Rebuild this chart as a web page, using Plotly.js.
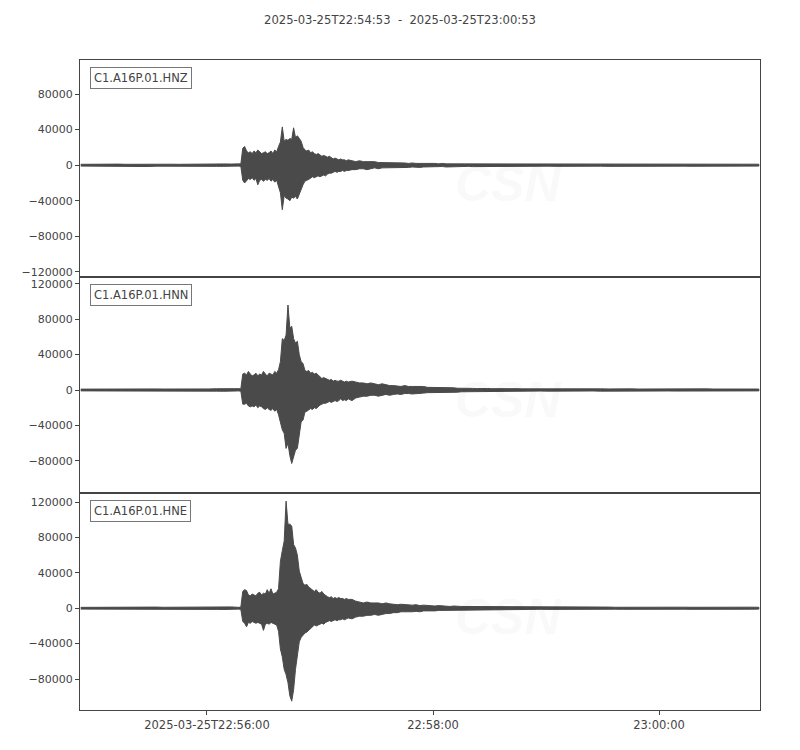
<!DOCTYPE html>
<html>
<head>
<meta charset="utf-8">
<script src="https://cdn.plot.ly/plotly-3.0.1.min.js"></script>
<style>html,body{margin:0;padding:0;background:#fff;}#chart{width:800px;height:750px;}</style>
</head>
<body>
<div id="chart"></div>
<script>
// ---- DATA ----
const startTime = '2025-03-25 22:54:53';
const titleText = '2025-03-25T22:54:53  -  2025-03-25T23:00:53';
const stations = ['C1.A16P.01.HNZ', 'C1.A16P.01.HNN', 'C1.A16P.01.HNE'];
const ampUnit = 1000; // values below are in thousands of counts

// seconds after start time
const tSec = [
  0,4,8,12,16,20,24,28,32,36,40,44,48,52,56,60,64,68,72,76,80,
  84,85,86,87,88,89,90,91,92,93,94,95,96,97,98,99,100,101,102,103,104,105,106,107,108,109,110,111,112,113,
  114,115,116,117,118,119,120,121,122,123,124,125,126,127,128,129,130,131,132,133,134,135,136,137,138,139,140,141,142,
  144,146,148,150,152,154,156,158,160,162,164,166,168,170,172,174,176,178,180,182,184,186,188,190,192,194,196,198,200,
  202,204,206,208,210,212,214,216,218,220,222,224,226,228,230,232,234,236,238,240,
  244,248,252,256,260,264,268,272,276,280,284,288,292,296,300,304,308,312,316,320,324,328,332,336,340,344,348,352,356,360
];

// HNZ envelope (max / min), thousands
const hnzMax = [
  1,1.2,1,1.1,1,1.2,1,1.1,1.4,1.5,1.2,1,1.1,1,1.2,1,1.1,1.3,1.2,1.4,1.3,
  1,1.5,19,21,16,14,15,13,16,14, 17,15,13,14,15,13,14,16,13,17, 15,21,26,43,27,29,28,30,29,42,
  31,33,30,27,20,17,16,17,14,15, 13,12,13,11,10,11,10,9,10,8, 7,8,7,6,7,6,6,5,6,
  5,4,5,4,4,4,4,3,3,3, 3,2.5,3,2.5,2.5,2,2.5,2,2,2, 2.5,2,2,1.5,2,1.5,1.5,1.5,1.5,
  1.6,1.4,1.5,1.3,1.5,1.4,1.3,1.6,1.4,1.3,1.5,1.2,1.4,1.3,1.5,1.2,1.3,1.4,1.2,1.3,
  1.2,1.3,1.1,1.6,1.3,1.7,1.2,1.1,1.3,1.2,1.1,1.2,1.3,1.1,1.2,1.1,1.2,1.3,1.1,1.2,1.1,1.2,1,1.1,1.2,1,1.1,1.2,1,1.1
];
const hnzMin = [
  -1,-1.1,-1,-1.2,-1,-1,-1.1,-1,-1.4,-1.5,-1.1,-1,-1,-1.2,-1,-1.1,-1.2,-1.2,-1.3,-1.3,-1.4,
  -1,-1.5,-17,-20,-18,-15,-16,-14,-17,-15, -22,-17,-16,-18,-16,-17,-15,-18,-16,-19, -17,-25,-31,-50,-34,-37,-38,-40,-36,-37,
  -35,-38,-33,-28,-22,-18,-17,-16,-15,-13, -14,-13,-12,-13,-12,-11,-12,-10,-9,-9, -8,-7,-8,-7,-7,-6,-7,-6,-6,
  -5,-5,-4,-4,-5,-4,-3,-4,-3,-3, -3,-3,-2.5,-2.5,-2.5,-2.5,-2,-2,-2.5,-2, -2,-2,-2,-1.5,-1.5,-2,-1.5,-1.5,-1.5,
  -1.4,-1.5,-1.3,-1.6,-1.4,-1.3,-1.5,-1.4,-1.2,-1.5,-1.3,-1.4,-1.2,-1.3,-1.5,-1.3,-1.2,-1.4,-1.3,-1.2,
  -1.2,-1.1,-1.3,-1.5,-1.2,-1.6,-1.1,-1.2,-1.1,-1.3,-1.2,-1.1,-1.2,-1.1,-1.3,-1.2,-1.1,-1.2,-1.2,-1.1,-1.2,-1,-1.1,-1.2,-1,-1.1,-1.2,-1,-1.1,-1
];

// HNN envelope
const hnnMax = [
  1,1.1,1.2,1,1.1,1,1.2,1.1,1.4,1.5,1.2,1.1,1,1.2,1.1,1.2,1.3,1.2,1.4,1.3,1.5,
  1,1.5,18,19,17,21,18,16,17,19, 16,18,17,21,18,16,19,18,17,21, 19,23,32,58,56,62,96,70,72,58,
  53,55,40,32,30,22,21,22,19,20, 18,19,17,15,13,14,13,12,11,12, 10,11,10,10,11,10,9,10,9,
  10,9,8,8,7,8,7,6,7,6, 5,5,4.5,4,5,4,4,4,3.5,4, 3,3,2.5,3,2.5,2.5,3,2.5,2,
  2,2.5,2,1.8,1.6,1.8,1.5,1.7,1.5,1.6,1.4,1.6,1.5,1.4,1.6,1.5,1.3,1.5,1.4,1.3,
  1.3,1.4,1.2,1.5,1.6,1.7,1.3,1.2,1.3,1.2,1.4,1.2,1.3,1.1,1.2,1.3,1.1,1.2,1.3,1.1,1.2,1.1,1.3,1.1,1.2,1.1,1,1.2,1.1,1.1
];
const hnnMin = [
  -1,-1.1,-1,-1.1,-1.2,-1,-1.1,-1,-1.4,-1.5,-1.1,-1.2,-1,-1.1,-1.2,-1.1,-1.2,-1.3,-1.3,-1.4,-1.4,
  -1,-1.5,-16,-16,-15,-18,-19,-18,-19,-17, -20,-18,-19,-21,-22,-20,-22,-23,-21,-24, -22,-28,-36,-45,-49,-66,-60,-74,-83,-77,
  -68,-66,-51,-36,-34,-25,-24,-23,-21,-22, -20,-21,-19,-17,-16,-15,-15,-14,-13,-14, -13,-12,-13,-12,-10,-12,-11,-12,-10,
  -12,-9,-8,-7,-7,-6,-6,-7,-6,-5, -6,-5,-4.5,-5,-4,-4,-4.5,-4,-4,-3.5, -3,-3,-3,-2.5,-3,-2.5,-2.5,-2.5,-2.5,
  -2,-2,-2,-1.7,-1.8,-1.6,-1.5,-1.6,-1.5,-1.4,-1.6,-1.5,-1.4,-1.5,-1.3,-1.5,-1.4,-1.3,-1.4,-1.2,
  -1.2,-1.3,-1.2,-1.4,-1.5,-1.6,-1.2,-1.1,-1.3,-1.2,-1.2,-1.1,-1.3,-1.2,-1.1,-1.2,-1.2,-1.1,-1.2,-1.1,-1.2,-1.1,-1.1,-1.2,-1,-1.1,-1.2,-1,-1.1,-1
];

// HNE envelope
const hneMax = [
  1,1.1,1,1.2,1.1,1,1.2,1.1,1.4,1.5,1.3,1.1,1.2,1,1.1,1.2,1.3,1.2,1.3,1.4,1.5,
  1,1.5,19,21,20,15,14,16,15,14, 17,18,15,17,16,21,17,22,16,17, 18,22,53,65,76,121,95,95,93,72,
  68,60,42,35,28,26,27,24,22,20, 19,21,18,17,19,16,14,13,12,13, 11,12,11,12,11,11,10,11,10,
  10,8,7,6,7,6,6,6,5,6, 5,4.5,4,4.5,4,4,3.5,4,3,3.5, 3,3,2.5,3,2.5,2.5,2,2.5,2,
  2,2,2,2,1.8,1.6,1.7,1.5,1.6,1.5,1.4,1.6,1.5,1.4,1.5,1.3,1.5,1.4,1.3,1.4,
  1.3,1.2,1.3,1.6,1.4,1.7,1.3,1.2,1.2,1.3,1.1,1.2,1.3,1.1,1.2,1.1,1.3,1.2,1.1,1.2,1.1,1.2,1.1,1,1.2,1.1,1,1.1,1.2,1.1
];
const hneMin = [
  -1,-1,-1.1,-1.2,-1,-1.1,-1,-1.2,-1.4,-1.5,-1.2,-1,-1.1,-1.2,-1.1,-1.2,-1.2,-1.3,-1.3,-1.4,-1.5,
  -1,-1.5,-15,-17,-21,-16,-17,-15,-16,-17, -16,-17,-18,-25,-18,-17,-18,-16,-17,-18, -19,-26,-46,-55,-69,-75,-84,-99,-105,-92,
  -69,-54,-38,-33,-31,-28,-27,-26,-23,-21, -19,-20,-19,-18,-17,-18,-16,-15,-14,-15, -14,-13,-14,-13,-13,-12,-13,-12,-11,
  -12,-10,-9,-9,-8,-8,-7,-8,-7,-6, -6,-5,-5,-4,-4.5,-4,-4,-3.5,-4,-3, -3,-3,-3,-2.5,-2.5,-2.5,-2.5,-2,-2,
  -2,-2,-1.5,-1.8,-1.6,-1.7,-1.5,-1.6,-1.4,-1.5,-1.6,-1.4,-1.5,-1.3,-1.4,-1.5,-1.3,-1.4,-1.2,-1.3,
  -1.2,-1.3,-1.2,-1.5,-1.3,-1.6,-1.2,-1.1,-1.3,-1.2,-1.1,-1.2,-1.1,-1.3,-1.2,-1.1,-1.2,-1.1,-1.2,-1.1,-1.2,-1,-1.1,-1.2,-1,-1.1,-1,-1.2,-1.1,-1
];

// axis ticks
const xTickVals = ['2025-03-25 22:56:00', '2025-03-25 22:58:00', '2025-03-25 23:00:00'];
const xTickText = ['2025-03-25T22:56:00', '22:58:00', '23:00:00'];
const xRange = ['2025-03-25 22:54:52.6', '2025-03-25 23:00:53.6'];
const yTickValsTop = [-120000, -80000, -40000, 0, 40000, 80000];
const yTickTextTop = ['\u2212120000', '\u221280000', '\u221240000', '0', '40000', '80000'];
const yTickValsLow = [-80000, -40000, 0, 40000, 80000, 120000];
const yTickTextLow = ['\u221280000', '\u221240000', '0', '40000', '80000', '120000'];
const yRanges = [[-125600, 118200], [-116400, 127700], [-115000, 130200]];

// ---- BUILD ----
const base = Date.parse(startTime.replace(' ', 'T') + 'Z');
function toDate(s) {
  return new Date(base + s * 1000).toISOString().replace('T', ' ').replace('Z', '');
}
const xs = tSec.map(toDate);
const waveColor = '#4a4a4a';
const axisColor = '#444444';
const envs = [[hnzMax, hnzMin], [hnnMax, hnnMin], [hneMax, hneMin]];

const traces = envs.map((e, i) => {
  const up = e[0].map(v => v * ampUnit);
  const lo = e[1].map(v => v * ampUnit);
  const n = Math.min(xs.length, up.length, lo.length);
  const x = xs.slice(0, n).concat(xs.slice(0, n).reverse());
  const y = up.slice(0, n).concat(lo.slice(0, n).reverse());
  return {
    type: 'scatter', mode: 'lines', x: x, y: y,
    fill: 'toself', fillcolor: waveColor,
    line: {color: waveColor, width: 1},
    xaxis: i === 0 ? 'x' : 'x' + (i + 1),
    yaxis: i === 0 ? 'y' : 'y' + (i + 1),
    hoverinfo: 'skip', showlegend: false
  };
});

const xTickFont = {family: 'DejaVu Sans, sans-serif', size: 11.5, color: axisColor};
const yTickFont = {family: 'DejaVu Sans, sans-serif', size: 11, color: axisColor};
const domains = [[0.6662, 1], [0.3338, 0.6662], [0, 0.3338]];

function xAxis(i) {
  const last = i === 2;
  return {
    type: 'date', range: xRange, domain: [0, 1],
    anchor: i === 0 ? 'y' : 'y' + (i + 1),
    matches: i === 0 ? undefined : 'x',
    showline: true, mirror: true, linecolor: axisColor, linewidth: 1,
    showgrid: false, zeroline: false,
    ticks: last ? 'outside' : '', ticklen: 4, tickcolor: axisColor,
    showticklabels: last,
    tickmode: 'array', tickvals: xTickVals, ticktext: xTickText,
    tickfont: xTickFont
  };
}
function yAxis(i) {
  return {
    domain: domains[i], range: yRanges[i],
    anchor: i === 0 ? 'x' : 'x' + (i + 1),
    showline: true, mirror: true, linecolor: axisColor, linewidth: 1,
    showgrid: false, zeroline: false,
    ticks: 'outside', ticklen: 4, tickcolor: axisColor,
    tickmode: 'array',
    tickvals: i === 0 ? yTickValsTop : yTickValsLow,
    ticktext: i === 0 ? yTickTextTop : yTickTextLow,
    tickfont: yTickFont
  };
}

const annotations = [];
const wmColor = 'rgba(0,0,0,0.025)';
const wmFamily = 'Liberation Sans, Arial, sans-serif';
stations.forEach((s, i) => {
  const xr = (i === 0 ? 'x' : 'x' + (i + 1)) + ' domain';
  const yr = (i === 0 ? 'y' : 'y' + (i + 1)) + ' domain';
  annotations.push({
    text: '<b><i>CSN</i></b>', xref: xr, yref: yr, x: 0.629, y: 0.43,
    xanchor: 'center', yanchor: 'middle', showarrow: false,
    font: {family: wmFamily, size: 50, color: wmColor}
  });
  annotations.push({
    text: '<i>CENTRO SISMOLÓGICO NACIONAL</i>', xref: xr, yref: yr, x: 0.665, y: 0.245,
    xanchor: 'left', yanchor: 'middle', showarrow: false,
    font: {family: wmFamily, size: 13, color: wmColor}
  });
  annotations.push({
    text: '<i>UNIVERSIDAD DE CHILE</i>', xref: xr, yref: yr, x: 0.659, y: 0.165,
    xanchor: 'left', yanchor: 'middle', showarrow: false,
    font: {family: wmFamily, size: 13, color: wmColor}
  });
  annotations.push({
    text: s, xref: xr, yref: yr, x: 0.0147, y: 0.968,
    xanchor: 'left', yanchor: 'top', showarrow: false,
    bgcolor: '#ffffff', bordercolor: '#777777', borderwidth: 1, borderpad: 3,
    font: {family: 'DejaVu Sans, sans-serif', size: 11.5, color: axisColor}
  });
});

const layout = {
  width: 800, height: 750,
  margin: {l: 80, r: 40, t: 60, b: 40},
  paper_bgcolor: '#ffffff', plot_bgcolor: '#ffffff',
  title: {
    text: titleText, x: 0.5, xref: 'container', xanchor: 'center',
    y: 1 - 20 / 750, yref: 'container', yanchor: 'middle',
    font: {family: 'DejaVu Sans, sans-serif', size: 11.6, color: axisColor}
  },
  xaxis: xAxis(0), xaxis2: xAxis(1), xaxis3: xAxis(2),
  yaxis: yAxis(0), yaxis2: yAxis(1), yaxis3: yAxis(2),
  annotations: annotations,
  showlegend: false
};

Plotly.newPlot('chart', traces, layout, {staticPlot: true, displayModeBar: false});
</script>
</body>
</html>
